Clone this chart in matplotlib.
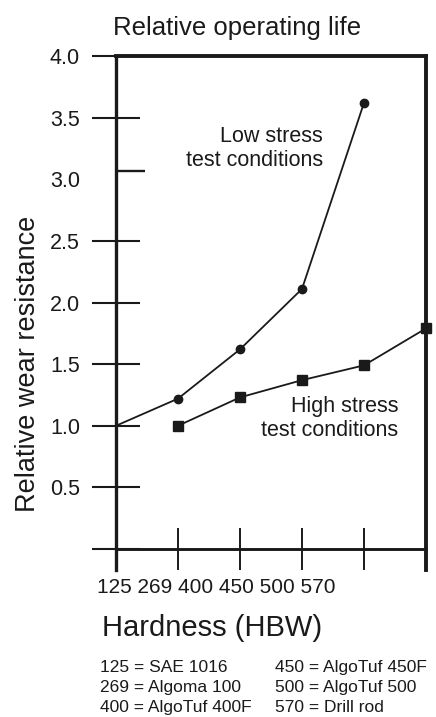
import matplotlib
matplotlib.use("Agg")
import matplotlib.pyplot as plt

plt.rcParams['font.family'] = ['Liberation Sans', 'DejaVu Sans']

# hardness grades along the x axis (evenly spaced positions)
hardness_labels = ["125", "269", "400", "450", "500", "570"]

low_x = [0, 1, 2, 3, 4]
low_y = [1.0, 1.22, 1.62, 2.11, 3.62]

high_x = [1, 2, 3, 4, 5]
high_y = [1.0, 1.23, 1.37, 1.49, 1.79]

y_ticks = [0, 0.5, 1.0, 1.5, 2.0, 2.5, 3.0, 3.5, 4.0]
y_labels = ["", "0.5", "1.0", "1.5", "2.0", "2.5", "3.0", "3.5", "4.0"]

legend_left = ["125 = SAE 1016", "269 = Algoma 100", "400 = AlgoTuf 400F"]
legend_right = ["450 = AlgoTuf 450F", "500 = AlgoTuf 500", "570 = Drill rod"]

ink = "#1a1a1a"

fig = plt.figure(figsize=(4.36, 7.17), dpi=100)
ax = fig.add_axes([116 / 436, 1 - 549 / 717, 310 / 436, 493 / 717])
ax.set_xlim(0, 5)
ax.set_ylim(0, 4)

ax.plot(low_x, low_y, color=ink, lw=1.3, marker="o", ms=6,
        markevery=[1, 2, 3, 4], clip_on=False, zorder=3)
ax.plot(high_x, high_y, color=ink, lw=1.3, marker="s", ms=7.5,
        clip_on=False, zorder=3)

for side, w in [("left", 2.4), ("right", 2.8), ("top", 2.8), ("bottom", 2.1)]:
  ax.spines[side].set_linewidth(w)
  ax.spines[side].set_color(ink)
ax.spines["left"].set_bounds(-0.17, 4)
ax.spines["right"].set_bounds(-0.17, 4)

ax.set_yticks(y_ticks)
ax.set_yticklabels(y_labels)
ax.tick_params(axis="y", direction="inout", length=34, width=1.5, color=ink,
               pad=9, labelsize=15.5, labelcolor=ink)
# the 3.0 tick sits a little high and only points inward
ax.yaxis.get_major_ticks()[6].tick1line.set_visible(False)
ax.set_yticks([3.07], minor=True)
ax.tick_params(axis="y", which="minor", direction="in", length=21, width=1.7,
               color=ink)

ax.set_xticks([1, 2, 3, 4])
ax.set_xticklabels([])
ax.tick_params(axis="x", direction="inout", length=30, width=1.4, color=ink)

fig.text(237 / 436, 1 - 35 / 717, "Relative operating life", ha="center",
         va="baseline", fontsize=18.5, color=ink)
fig.text(28 / 436, 1 - 364 / 717, "Relative wear resistance", rotation=90,
         ha="center", va="center", fontsize=19.5, color=ink)
fig.text(97 / 436, 1 - 593 / 717, " ".join(hardness_labels), ha="left",
         va="baseline", fontsize=15, color=ink)
fig.text(102 / 436, 1 - 636 / 717, "Hardness (HBW)", ha="left",
         va="baseline", fontsize=21, color=ink)

# va="baseline" on two lines anchors the second line
fig.text(323 / 436, 1 - 166 / 717, "Low stress\ntest conditions", ha="right",
         va="baseline", multialignment="right", fontsize=15.5, color=ink)
fig.text(398 / 436, 1 - 436 / 717, "High stress\ntest conditions", ha="right",
         va="baseline", multialignment="right", fontsize=15.5, color=ink)

for i, (a, b) in enumerate(zip(legend_left, legend_right)):
  y = 1 - (672 + 20 * i) / 717
  fig.text(100 / 436, y, a, ha="left", va="baseline", fontsize=12.5, color=ink)
  fig.text(275 / 436, y, b, ha="left", va="baseline", fontsize=12.5, color=ink)

fig.savefig("out.png", dpi=100)
